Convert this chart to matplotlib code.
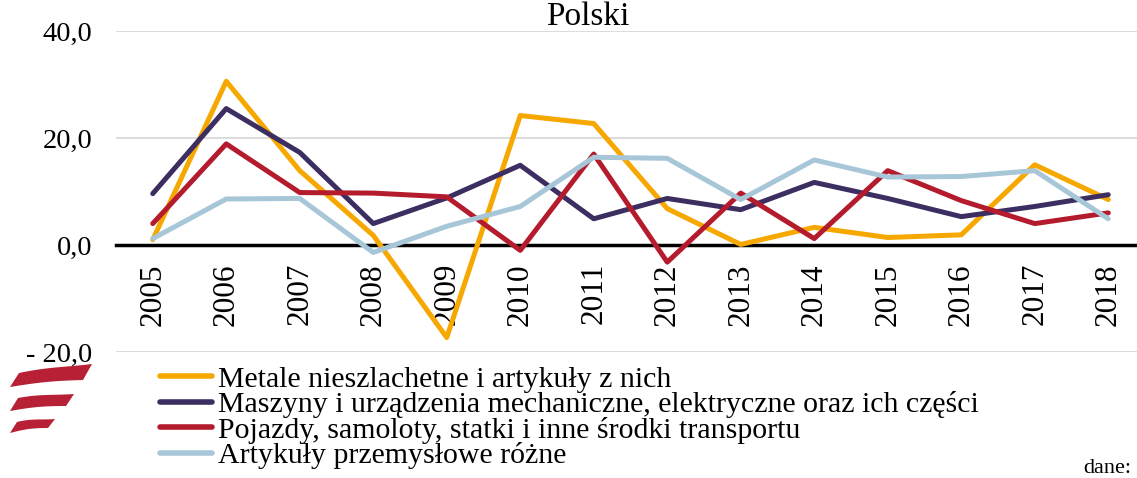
import numpy as np
import matplotlib
matplotlib.use('Agg')
import matplotlib.pyplot as plt
from matplotlib.patches import Polygon

plt.rcParams['font.family'] = ['Liberation Serif', 'DejaVu Serif']

years = ['2005', '2006', '2007', '2008', '2009', '2010', '2011',
         '2012', '2013', '2014', '2015', '2016', '2017', '2018']

metale = [1.0, 30.6, 13.9, 1.8, -17.3, 24.2, 22.7, 6.8, 0.1, 3.3, 1.4, 1.9, 15.0, 8.5]
maszyny = [9.6, 25.5, 17.3, 4.0, 8.8, 14.9, 4.9, 8.7, 6.6, 11.7, 8.7, 5.3, 7.2, 9.4]
pojazdy = [4.0, 18.9, 9.8, 9.7, 9.0, -1.0, 17.0, -3.2, 9.7, 1.2, 13.9, 8.3, 4.0, 6.0]
artykuly = [1.2, 8.6, 8.7, -1.4, 3.5, 7.2, 16.4, 16.2, 8.5, 15.9, 12.7, 12.8, 13.9, 4.9]

series_names = ['Metale nieszlachetne i artykuły z nich',
                'Maszyny i urządzenia mechaniczne, elektryczne oraz ich części',
                'Pojazdy, samoloty, statki i inne środki transportu',
                'Artykuły przemysłowe różne']
colors = ['#F7A800', '#3C2E61', '#B41B2D', '#A7C7D8']

yticks = [-20, 0, 20, 40]
ytick_labels = ['- 20,0', '0,0', '20,0', '40,0']

W, H = 1137, 478
fig = plt.figure(figsize=(W / 100, H / 100), dpi=100)
ax = fig.add_axes([116 / W, 1 - 352 / H, (1145 - 116) / W, (352 - 31) / H])

x = np.arange(len(years))
for vals, name, c in zip([metale, maszyny, pojazdy, artykuly], series_names, colors):
    ax.plot(x, vals, color=c, lw=3.6, label=name, solid_capstyle='round')

for s in ['top', 'right', 'left']:
    ax.spines[s].set_visible(False)
ax.spines['bottom'].set_position(('data', 0))
ax.spines['bottom'].set_linewidth(2.5)
ax.spines['bottom'].set_color('black')
ax.spines['bottom'].set_zorder(1)

ax.set_xlim(-0.5, len(years) - 0.5)
ax.set_ylim(-20, 40)
ax.set_yticks(yticks)
ax.set_yticklabels(ytick_labels, fontsize=20.5)
ax.set_xticks(x)
ax.set_xticklabels(years, rotation=90, fontsize=22.5)
ax.tick_params(axis='both', length=0)
ax.tick_params(axis='y', pad=17)
ax.tick_params(axis='x', pad=13)
ax.grid(axis='y', color='#D9D9D9', lw=1.3)
ax.set_axisbelow(True)

fig.text(588 / W, 1 - 25 / H, 'Polski', ha='center', va='baseline', fontsize=24)
fig.text(1083 / W, 1 - 459 / H, 'dane:', ha='left', va='top', fontsize=16)

leg = fig.legend(loc='upper left', bbox_to_anchor=(160 / W, 1 - 366 / H),
                 frameon=False, fontsize=21.5, handlelength=1.75, handletextpad=0.2,
                 labelspacing=-0.05, borderpad=0, borderaxespad=0)
for h in leg.get_lines():
    h.set_linewidth(4)

# logo: three red waving stripes
lax = fig.add_axes([0, 0, 1, 1])
lax.set_xlim(0, W)
lax.set_ylim(H, 0)
lax.axis('off')
# (left x, right x, top-left y, top-right y, bottom-left y, bottom-right y, slant)
bands = [(10, 92, 373, 364, 387, 380, 9),
         (10, 74, 398, 394, 411, 406, 8),
         (10, 55, 422, 419, 433, 428, 7)]
t = np.linspace(0, 1, 40)
for xl, xr, ytl, ytr, ybl, ybr, sh in bands:
    ux = (xl + sh) + (xr - xl - sh) * t
    ut = ytl + (ytr - ytl) * t - 2.0 * np.sin(np.pi * t) * (1 - t)
    lx = xl + (xr - xl - sh) * t
    lt = ybl + (ybr - ybl) * t - 1.5 * np.sin(np.pi * t)
    pts = np.vstack([np.column_stack([ux, ut]), np.column_stack([lx, lt])[::-1]])
    lax.add_patch(Polygon(pts, closed=True, color='#B72035', lw=0))

fig.savefig('out.png', dpi=100)
